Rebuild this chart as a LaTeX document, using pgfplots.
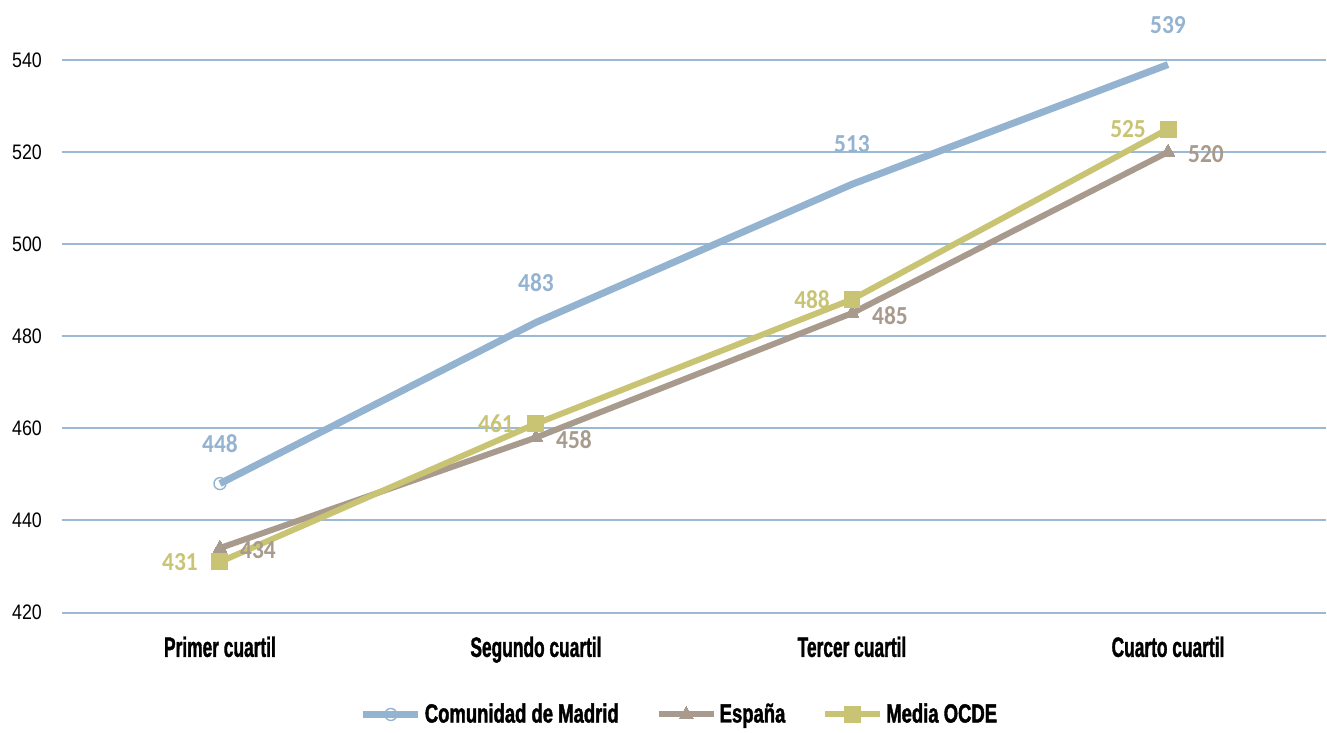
\documentclass[border=0pt]{standalone}
\usepackage{pgfplots}
\pgfplotsset{compat=1.18}
\usepackage{fontspec}
\setmainfont{Liberation Sans}[FakeStretch=0.85]
\newfontfamily\catfont{Liberation Sans}[FakeStretch=0.62,FakeBold=1.2]
\newfontfamily\legfont{Liberation Sans}[FakeStretch=0.7,FakeBold=1.5]
\newfontfamily\datafont{Carlito}[FakeStretch=0.9]
\definecolor{madrid}{RGB}{147,179,208}
\definecolor{gridc}{RGB}{155,185,213}
\definecolor{espana}{RGB}{168,154,140}
\definecolor{ocde}{RGB}{201,196,115}
\begin{document}
\begin{tikzpicture}
\begin{axis}[
  scale only axis,
  width=632.5pt, height=276.5pt,
  xmin=-0.5, xmax=3.5, ymin=420, ymax=540,
  clip=false,
  xtick={0,1,2,3},
  xticklabels={Primer cuartil,Segundo cuartil,Tercer cuartil,Cuarto cuartil},
  ytick={420,440,...,540},
  ymajorgrids,
  grid style={gridc, line width=1pt},
  axis line style={draw=none},
  tick style={draw=none},
  /pgf/number format/assume math mode=true,
  yticklabel style={font=\fontsize{10.5}{12}\selectfont, anchor=east, xshift=-6.5pt},
  xticklabel style={font=\fontsize{14}{16}\selectfont\catfont\bfseries, anchor=north, yshift=-8.5pt},
  legend columns=3,
  legend style={draw=none, fill=none, at={(0.5,-0.1845)}, anchor=center, xshift=-7pt,
    font=\fontsize{13.2}{15}\selectfont\legfont\bfseries,
    /tikz/every even column/.append style={column sep=17pt},
    nodes={inner sep=1.5pt}},
  legend image code/.code={\draw[mark repeat=2,mark phase=2,#1] plot coordinates {(0pt,0pt) (13.75pt,0pt) (27.5pt,0pt)};},
  point meta=y,
  every node near coord/.append style={font=\fontsize{13}{15}\selectfont\datafont\bfseries, anchor=center},
]
\addplot[madrid, line width=3.5pt, no marks, nodes near coords, forget plot,
  every node near coord/.append style={text=madrid, yshift=20pt}]
  coordinates {(0,448) (1,483) (2,513) (3,539)};
\addplot[madrid, line width=3.5pt, mark=o, mark size=3pt, mark options={line width=0.7pt, fill=none}]
  coordinates {(0,448)};
\addlegendentry{Comunidad de Madrid}
\addplot[espana, line width=3pt, mark=triangle*, mark size=4pt, mark options={line width=0pt}, nodes near coords,
  every node near coord/.append style={text=espana, xshift=19pt, yshift=-1pt}]
  coordinates {(0,434) (1,458) (2,485) (3,520)};
\addlegendentry{España}
\addplot[ocde, line width=3pt, mark=square*, mark size=4pt, mark options={line width=0pt}, nodes near coords,
  every node near coord/.append style={text=ocde, xshift=-20pt}]
  coordinates {(0,431) (1,461) (2,488) (3,525)};
\addlegendentry{Media OCDE}
\end{axis}
\path ([yshift=30pt]current axis.north) ([xshift=-31pt]current axis.west);
\end{tikzpicture}
\end{document}
